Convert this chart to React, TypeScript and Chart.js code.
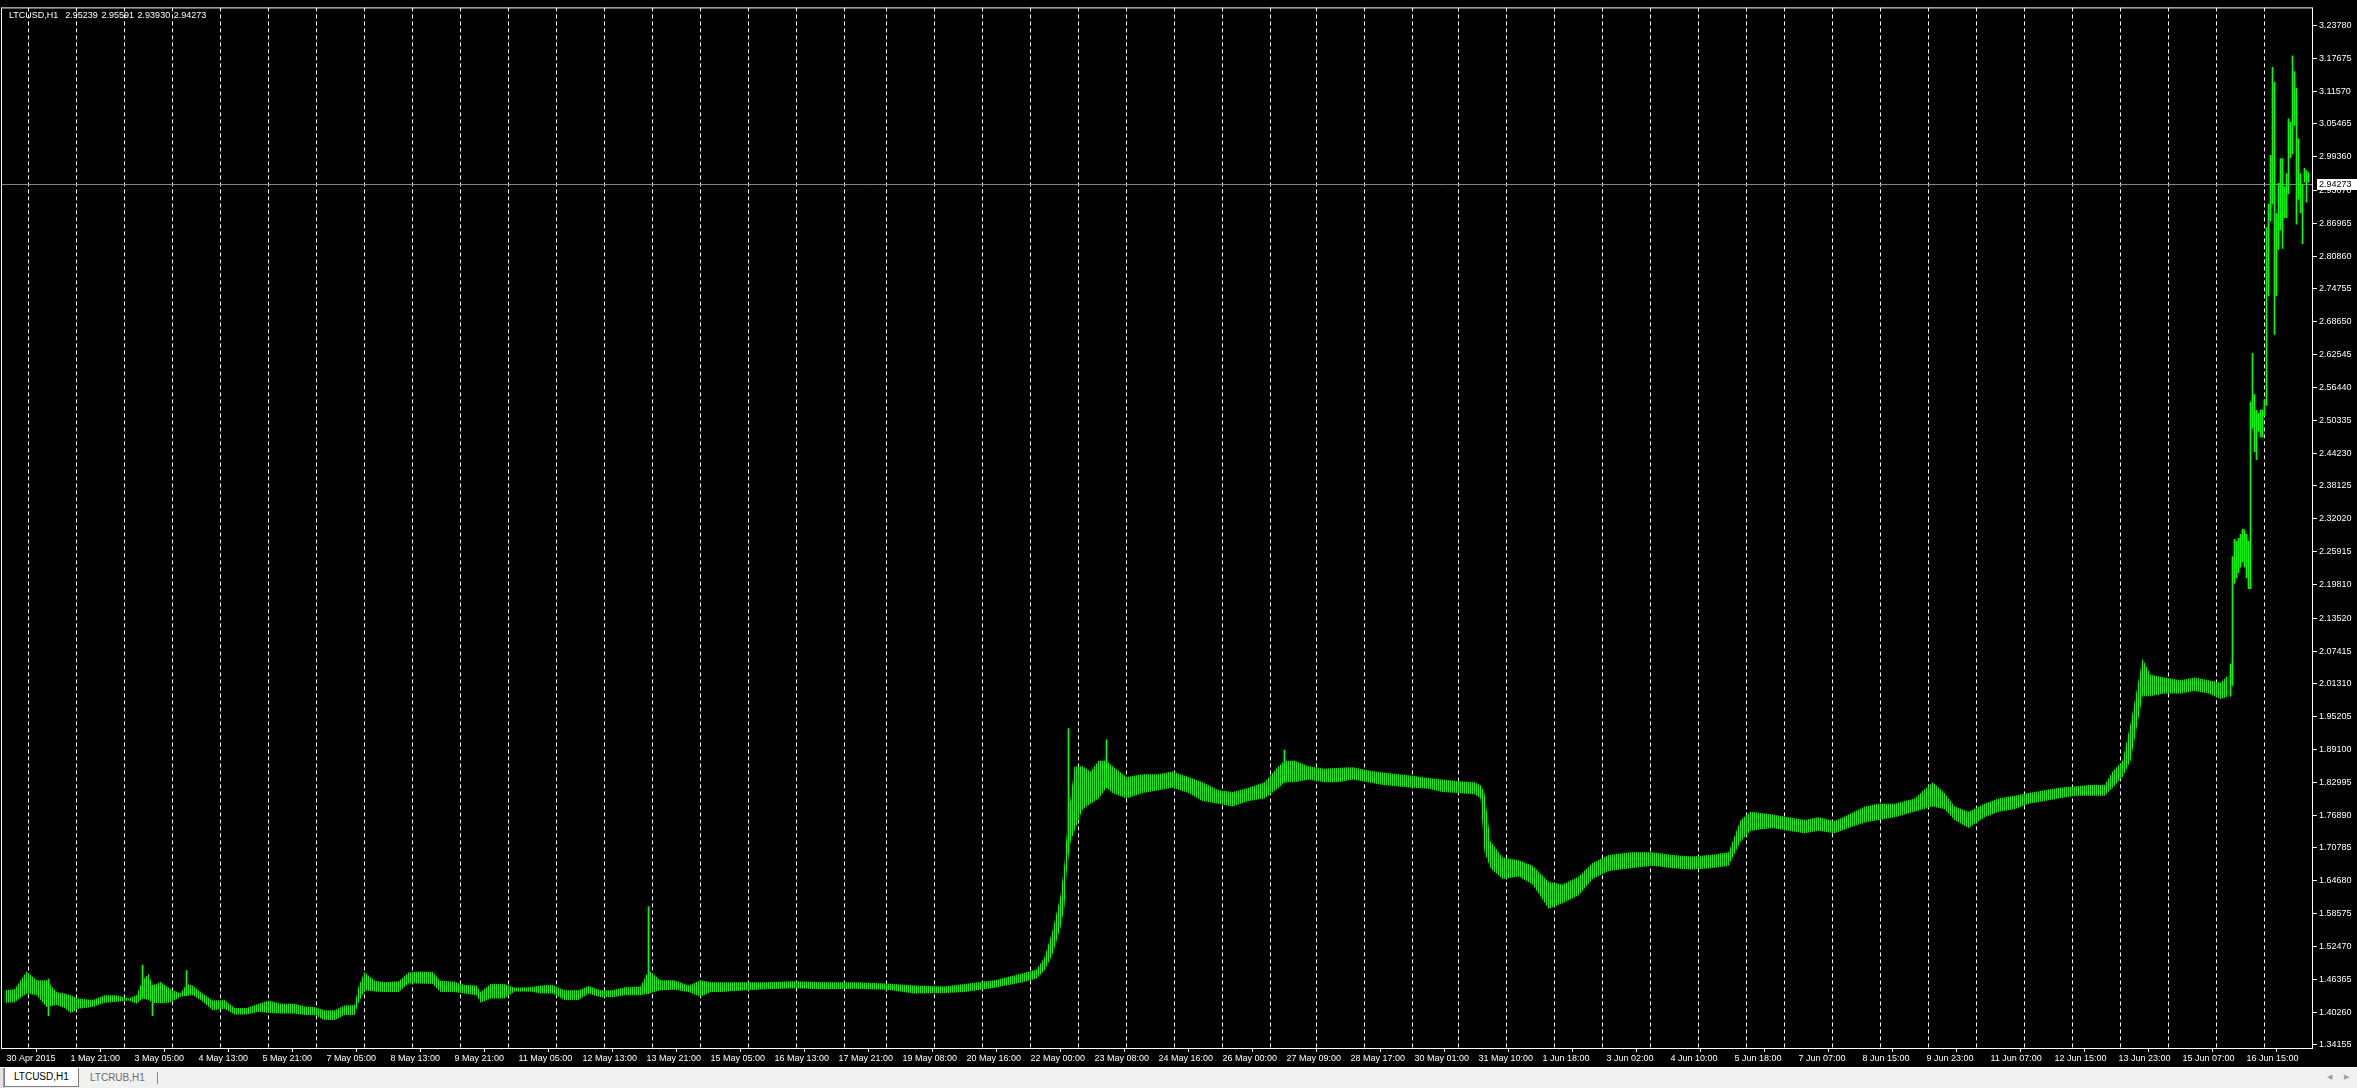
import React, { useEffect, useRef } from "react";
import { Chart, registerables } from "chart.js";

Chart.register(...registerables);

const symbolTitle = "LTCUSD,H1";
const lastBarOHLC = [2.95239, 2.95591, 2.9393, 2.94273];
const bidPrice = 2.94273;
const tabNames = ["LTCUSD,H1", "LTCRUB,H1"];

const timeLabels = [
  "30 Apr 2015", "1 May 21:00", "3 May 05:00", "4 May 13:00", "5 May 21:00", "7 May 05:00",
  "8 May 13:00", "9 May 21:00", "11 May 05:00", "12 May 13:00", "13 May 21:00", "15 May 05:00",
  "16 May 13:00", "17 May 21:00", "19 May 08:00", "20 May 16:00", "22 May 00:00", "23 May 08:00",
  "24 May 16:00", "26 May 00:00", "27 May 09:00", "28 May 17:00", "30 May 01:00", "31 May 10:00",
  "1 Jun 18:00", "3 Jun 02:00", "4 Jun 10:00", "5 Jun 18:00", "7 Jun 07:00", "8 Jun 15:00",
  "9 Jun 23:00", "11 Jun 07:00", "12 Jun 15:00", "13 Jun 23:00", "15 Jun 07:00", "16 Jun 15:00",
];
const timeLabelBars = [
  0, 32, 64, 96, 128, 160, 192, 224, 256, 288, 320, 352, 384, 416, 448, 480, 512, 544,
  576, 608, 640, 672, 704, 736, 768, 800, 832, 864, 896, 928, 960, 992, 1024, 1056, 1088, 1120,
];
const daySeparatorBars = [
  12, 36, 60, 84, 108, 132, 156, 180, 204, 228, 252, 276, 300, 324, 348, 372, 396, 420, 441,
  465, 489, 513, 537, 561, 585, 609, 633, 656, 680, 704, 727, 751, 775, 799, 823, 847, 871,
  890, 914, 938, 962, 986, 1010, 1034, 1058, 1082, 1106, 1130,
];
const priceTicks = [
  3.2378, 3.17675, 3.1157, 3.05465, 2.9936, 2.9307, 2.86965, 2.8086, 2.74755, 2.6865, 2.62545,
  2.5644, 2.50335, 2.4423, 2.38125, 2.3202, 2.25915, 2.1981, 2.1352, 2.07415, 2.0131, 1.95205,
  1.891, 1.82995, 1.7689, 1.70785, 1.6468, 1.58575, 1.5247, 1.46365, 1.4026, 1.34155,
];

// envelope of the hourly bars (bar index, low, high)
const rangeBars = [
  0, 5, 11, 16, 21, 26, 30, 33, 37, 44, 50, 56, 62, 66, 69, 72, 74, 78, 83, 88, 91, 94, 98, 104,
  110, 115, 121, 127, 132, 138, 145, 150, 155, 160, 165, 170, 175, 177, 180, 185, 190, 197, 202,
  208, 214, 218, 225, 230, 236, 238, 243, 250, 255, 263, 268, 274, 280, 287, 292, 298, 304, 310,
  318, 322, 328, 335, 342, 348, 353, 358, 365, 380, 395, 410, 425, 441, 455, 470, 480, 495, 509,
  516, 520, 524, 528, 530, 531, 533, 535, 539, 543, 547, 551, 554, 561, 569, 577, 584, 592, 599,
  607, 614, 622, 630, 637, 640, 645, 652, 660, 667, 674, 682, 689, 697, 704, 712, 719, 727, 735,
  738, 740, 743, 749, 757, 764, 772, 779, 787, 794, 802, 813, 824, 834, 843, 853, 862, 868, 873,
  884, 892, 900, 907, 915, 922, 930, 937, 945, 955, 964, 970, 975, 982, 990, 997, 1005, 1012,
  1020, 1027, 1035, 1042, 1050, 1054, 1059, 1063, 1066, 1069, 1073, 1080, 1088, 1095, 1102,
  1108, 1112,
];
const rangeLow = [
  1.42, 1.421, 1.437, 1.434, 1.412, 1.416, 1.41, 1.401, 1.409, 1.412, 1.42, 1.422, 1.424, 1.418,
  1.428, 1.425, 1.42, 1.419, 1.421, 1.431, 1.433, 1.434, 1.425, 1.406, 1.409, 1.398, 1.398, 1.403,
  1.401, 1.4, 1.4, 1.397, 1.397, 1.388, 1.388, 1.397, 1.397, 1.42, 1.443, 1.441, 1.44, 1.44, 1.456,
  1.456, 1.455, 1.44, 1.44, 1.437, 1.434, 1.42, 1.428, 1.428, 1.441, 1.441, 1.437, 1.437, 1.425,
  1.425, 1.437, 1.43, 1.43, 1.434, 1.434, 1.437, 1.443, 1.444, 1.44, 1.431, 1.44, 1.44, 1.442,
  1.445, 1.447, 1.445, 1.446, 1.444, 1.437, 1.438, 1.44, 1.448, 1.458, 1.465, 1.48, 1.51, 1.56,
  1.6, 1.66, 1.72, 1.74, 1.78, 1.79, 1.8, 1.82, 1.81, 1.8, 1.81, 1.815, 1.82, 1.81, 1.795, 1.79,
  1.785, 1.795, 1.8, 1.82, 1.83, 1.83, 1.835, 1.83, 1.83, 1.835, 1.83, 1.825, 1.822, 1.82, 1.818,
  1.812, 1.81, 1.808, 1.8, 1.7, 1.67, 1.65, 1.655, 1.64, 1.595, 1.605, 1.62, 1.65, 1.665, 1.67,
  1.675, 1.67, 1.668, 1.67, 1.675, 1.72, 1.74, 1.745, 1.74, 1.735, 1.74, 1.735, 1.745, 1.755, 1.76,
  1.765, 1.775, 1.785, 1.78, 1.76, 1.745, 1.765, 1.775, 1.78, 1.79, 1.795, 1.8, 1.805, 1.805,
  1.805, 1.82, 1.84, 1.87, 1.93, 1.99, 1.99, 1.995, 1.995, 2.0, 1.995, 1.985, 1.99,
];
const rangeHigh = [
  1.443, 1.445, 1.478, 1.462, 1.462, 1.44, 1.437, 1.434, 1.428, 1.425, 1.434, 1.434, 1.428, 1.434,
  1.462, 1.474, 1.452, 1.459, 1.445, 1.437, 1.455, 1.452, 1.44, 1.424, 1.425, 1.41, 1.41, 1.418,
  1.424, 1.418, 1.418, 1.413, 1.412, 1.406, 1.406, 1.415, 1.416, 1.45, 1.477, 1.461, 1.458, 1.46,
  1.476, 1.478, 1.477, 1.461, 1.459, 1.453, 1.452, 1.44, 1.455, 1.455, 1.448, 1.449, 1.452, 1.453,
  1.443, 1.443, 1.451, 1.443, 1.443, 1.449, 1.45, 1.48, 1.462, 1.462, 1.452, 1.462, 1.458, 1.458,
  1.458, 1.458, 1.46, 1.458, 1.458, 1.456, 1.452, 1.45, 1.455, 1.462, 1.475, 1.482, 1.505, 1.555,
  1.62, 1.68, 1.73, 1.8, 1.86, 1.86, 1.85, 1.87, 1.87, 1.86, 1.84, 1.845, 1.845, 1.85, 1.84, 1.83,
  1.815, 1.812, 1.82, 1.83, 1.86, 1.87, 1.87, 1.86, 1.855, 1.857, 1.858, 1.852, 1.848, 1.845, 1.842,
  1.838, 1.835, 1.832, 1.83, 1.825, 1.81, 1.72, 1.69, 1.685, 1.675, 1.645, 1.64, 1.655, 1.68, 1.695,
  1.7, 1.7, 1.695, 1.692, 1.695, 1.7, 1.76, 1.775, 1.77, 1.765, 1.76, 1.765, 1.758, 1.77, 1.785,
  1.79, 1.79, 1.8, 1.83, 1.81, 1.785, 1.775, 1.79, 1.8, 1.805, 1.81, 1.815, 1.82, 1.822, 1.825,
  1.825, 1.85, 1.87, 1.94, 2.0, 2.06, 2.03, 2.025, 2.02, 2.025, 2.02, 2.015, 2.03,
];

// individual hourly bars (spikes and the last two days)
const singleBars = [
  22, 69, 74, 91, 322, 532, 551, 640, 1113, 1114, 1115, 1116, 1117, 1118, 1119, 1120, 1121, 1122,
  1123, 1124, 1125, 1126, 1127, 1128, 1129, 1130, 1131, 1132, 1133, 1134, 1135, 1136, 1137, 1138,
  1139, 1140, 1141, 1142, 1143, 1144, 1145, 1146, 1147, 1148, 1149, 1150, 1151, 1152,
];
const singleLow = [
  1.396, 1.428, 1.396, 1.433, 1.437, 1.7, 1.82, 1.83, 1.99, 2.01, 2.2, 2.21, 2.22, 2.23, 2.24,
  2.23, 2.21, 2.19, 2.19, 2.488, 2.445, 2.43, 2.483, 2.472, 2.472, 2.512, 2.531, 2.735, 2.874,
  2.906, 2.663, 2.735, 2.821, 2.857, 2.823, 2.88, 2.88, 2.925, 2.992, 2.999, 3.052, 2.868, 2.914,
  2.889, 2.832, 2.946, 2.909, 2.946,
];
const singleHigh = [
  1.464, 1.49, 1.452, 1.48, 1.599, 1.93, 1.909, 1.89, 2.05, 2.25, 2.282, 2.278, 2.284, 2.291,
  2.301, 2.299, 2.291, 2.278, 2.537, 2.628, 2.551, 2.522, 2.516, 2.523, 2.523, 2.542, 2.862, 2.906,
  2.996, 3.16, 3.132, 2.888, 2.944, 2.99, 2.99, 2.938, 2.962, 3.064, 3.058, 3.181, 3.152, 3.121,
  3.027, 2.962, 2.942, 2.972, 2.968, 2.964,
];

const BAR_COLOR = "#00ff00";
const FONT = '"Liberation Sans", Arial, sans-serif';

export default function App() {
  const ref = useRef<HTMLCanvasElement>(null);

  useEffect(() => {
    document.body.style.margin = "0";
    document.body.style.background = "#000";
    const canvas = ref.current!;
    const pc = document.createElement("canvas");
    pc.width = 2;
    pc.height = 1;
    const pctx = pc.getContext("2d")!;
    pctx.fillStyle = BAR_COLOR;
    pctx.fillRect(0, 0, 1, 1);
    const stripes = canvas.getContext("2d")!.createPattern(pc, "repeat")!;

    const chrome = {
      id: "mtChrome",
      beforeDraw(chart: any) {
        const { ctx, width, height } = chart;
        ctx.save();
        ctx.fillStyle = "#000";
        ctx.fillRect(0, 0, width, height);
        ctx.restore();
      },
      beforeDatasetsDraw(chart: any) {
        const { ctx, chartArea: a, scales } = chart;
        const x = scales.x;
        const y = scales.y;
        ctx.save();
        ctx.beginPath();
        ctx.rect(a.left, a.top, a.right - a.left, a.bottom - a.top);
        ctx.clip();
        ctx.strokeStyle = "#ffffff";
        ctx.lineWidth = 1;
        ctx.setLineDash([4, 3]);
        for (const b of daySeparatorBars) {
          const px = Math.floor(x.getPixelForValue(b)) + 0.5;
          ctx.beginPath();
          ctx.moveTo(px, a.top);
          ctx.lineTo(px, a.bottom);
          ctx.stroke();
        }
        ctx.setLineDash([]);
        const py = Math.round(y.getPixelForValue(bidPrice)) + 0.5;
        ctx.strokeStyle = "#778899";
        ctx.beginPath();
        ctx.moveTo(a.left, py);
        ctx.lineTo(a.right, py);
        ctx.stroke();
        ctx.restore();
      },
      afterDraw(chart: any) {
        const { ctx, chartArea: a, scales } = chart;
        const y = scales.y;
        ctx.save();
        ctx.strokeStyle = "#ffffff";
        ctx.lineWidth = 1;
        ctx.strokeRect(a.left - 0.5, a.top + 0.5, a.right - a.left, a.bottom - a.top);
        const py = Math.round(y.getPixelForValue(bidPrice));
        ctx.fillStyle = "#ffffff";
        ctx.fillRect(a.right + 4, py - 5, 44, 11);
        ctx.fillStyle = "#000000";
        ctx.font = `9px ${FONT}`;
        ctx.textBaseline = "middle";
        ctx.textAlign = "left";
        ctx.fillText(bidPrice.toFixed(5), a.right + 6, py + 0.5);
        // title: symbol, then O H L C of the last bar
        ctx.fillStyle = "#ffffff";
        ctx.font = `9px ${FONT}`;
        let tx = 9;
        const ty = a.top + 8.5;
        ctx.fillText(symbolTitle, tx, ty);
        tx += ctx.measureText(symbolTitle).width + 7;
        for (const v of lastBarOHLC) {
          const s = v.toFixed(5);
          ctx.fillText(s, tx, ty);
          tx += ctx.measureText(s).width + 3.6;
        }
        ctx.restore();
      },
    };

    const chart = new Chart(canvas, {
      type: "line",
      data: {
        datasets: [
          {
            type: "line",
            data: rangeBars.map((b, i) => ({ x: b, y: rangeHigh[i] })),
            borderColor: "rgba(0,0,0,0)",
            borderWidth: 0,
            backgroundColor: stripes as any,
            pointRadius: 0,
            tension: 0,
            fill: "+1",
          },
          {
            type: "line",
            data: rangeBars.map((b, i) => ({ x: b, y: rangeLow[i] })),
            borderColor: "rgba(0,0,0,0)",
            borderWidth: 0,
            pointRadius: 0,
            tension: 0,
            fill: false,
          },
          {
            type: "bar",
            data: singleBars.map((b, i) => ({ x: b, y: [singleLow[i], singleHigh[i]] })) as any,
            backgroundColor: BAR_COLOR,
            borderWidth: 0,
            barThickness: 1,
            grouped: false,
          } as any,
        ],
      },
      options: {
        responsive: false,
        animation: false,
        events: [],
        layout: { padding: { left: 2, top: 4, right: 0, bottom: 0 } },
        plugins: { legend: { display: false }, tooltip: { enabled: false }, title: { display: false } },
        scales: {
          x: {
            type: "linear",
            min: -1.25,
            max: 1154.25,
            offset: false,
            border: { display: false },
            grid: { drawOnChartArea: false, drawTicks: true, tickLength: 4, color: "#ffffff" },
            afterBuildTicks: (axis: any) => {
              axis.ticks = timeLabelBars.map((v) => ({ value: v }));
            },
            afterFit: (scale: any) => {
              scale.height = 19;
            },
            ticks: {
              autoSkip: false,
              maxRotation: 0,
              minRotation: 0,
              align: "start",
              labelOffset: 2,
              padding: 1,
              color: "#ffffff",
              font: { family: FONT, size: 9 },
              callback: (v: any) => timeLabels[timeLabelBars.indexOf(Number(v))] ?? "",
            },
          },
          y: {
            type: "linear",
            position: "right",
            min: 1.3358,
            max: 3.2713,
            border: { display: false },
            grid: { drawOnChartArea: false, drawTicks: true, tickLength: 4, color: "#ffffff" },
            afterBuildTicks: (axis: any) => {
              axis.ticks = priceTicks.map((v) => ({ value: v }));
            },
            afterFit: (scale: any) => {
              scale.width = 44;
            },
            ticks: {
              autoSkip: false,
              padding: 2,
              color: "#ffffff",
              font: { family: FONT, size: 9 },
              callback: (v: any) => Number(v).toFixed(5),
            },
          },
        },
      },
      plugins: [chrome],
    });
    return () => chart.destroy();
  }, []);

  return (
    <div style={{ position: "relative", width: 2357, height: 1088, background: "#000", overflow: "hidden" }}>
      <canvas ref={ref} width={2357} height={1067} style={{ display: "block", width: 2357, height: 1067 }} />
      <div
        style={{
          position: "absolute",
          left: 0,
          top: 1067,
          width: 2357,
          height: 21,
          background: "#f0f0f0",
          borderTop: "1px solid #ffffff",
          boxSizing: "border-box",
          fontFamily: FONT,
          fontSize: 10,
        }}
      >
        <div style={{ position: "absolute", left: 0, top: 0, width: 3, height: 20, borderRight: "1px solid #a0a0a0", background: "#e3e3e3" }} />
        <div
          style={{
            position: "absolute",
            left: 4,
            top: 0,
            width: 75,
            height: 19,
            background: "#ffffff",
            border: "1px solid #7a7a7a",
            borderTop: "none",
            boxSizing: "border-box",
            color: "#000",
            lineHeight: "18px",
            paddingLeft: 9,
          }}
        >
          {tabNames[0]}
        </div>
        <div style={{ position: "absolute", left: 90, top: 0, color: "#6d6d6d", lineHeight: "19px" }}>{tabNames[1]}</div>
        <div style={{ position: "absolute", left: 157, top: 4, width: 1, height: 12, background: "#8a8a8a" }} />
        <div style={{ position: "absolute", left: 2327, top: 0, color: "#a0a0a0", lineHeight: "19px", fontSize: 7, fontFamily: '"DejaVu Sans", sans-serif' }}>
          ◀
        </div>
        <div style={{ position: "absolute", left: 2344, top: 0, color: "#a0a0a0", lineHeight: "19px", fontSize: 7, fontFamily: '"DejaVu Sans", sans-serif' }}>
          ▶
        </div>
      </div>
    </div>
  );
}
